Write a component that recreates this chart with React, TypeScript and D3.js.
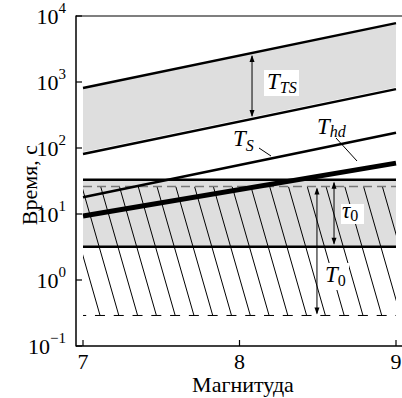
import React from "react";
import * as d3 from "d3";

const magnitudes = [7, 9];
const ttsUpper = [810, 7800];
const ttsLower = [81, 780];
const tS = [18, 170];
const tHd = [9.3, 59];
const tau0Range = [33, 3.2];
const t0Range = [26, 0.29];
const xTicks = [7, 8, 9];
const yTicks = [0.1, 1, 10, 100, 1000, 10000];
const yTickExp = ["−1", "0", "1", "2", "3", "4"];

const W = 402;
const H = 398;

export default function App() {
  const x = d3.scaleLinear().domain([7, 9]).range([83, 396]);
  const y = d3.scaleLog().domain([0.1, 10000]).range([346, 16]);
  const axisLeft = 76;

  const pts = (vals: number[]) => magnitudes.map((m, i) => [m, vals[i]] as [number, number]);
  const line = d3
    .line<[number, number]>()
    .x((d) => x(d[0]))
    .y((d) => y(d[1]));

  const band = d3
    .area<number>()
    .x((_, i) => x(magnitudes[i]))
    .y0((_, i) => y(ttsLower[i] * 1.07))
    .y1((_, i) => y(ttsUpper[i]));

  const at = (vals: number[], m: number) => {
    const t = (m - magnitudes[0]) / (magnitudes[1] - magnitudes[0]);
    return Math.pow(10, Math.log10(vals[0]) + t * (Math.log10(vals[1]) - Math.log10(vals[0])));
  };

  const hatchStart = 7.109;
  const hatchStep = 0.12;
  const hatchSlant = 0.236;
  const hatch = d3.range(-3, 20).map((k) => hatchStart + k * hatchStep);
  const hatchTopY = y(t0Range[0]);
  const hatchBotY = y(t0Range[1]);

  const arrow = (xx: number, y1: number, y2: number, key: string) => (
    <g key={key}>
      <line x1={xx} x2={xx} y1={y1 + 1} y2={y2 - 1} stroke="#000" strokeWidth={1} />
      <path d={`M${xx},${y1} l-2.5,7 l5,0 z`} fill="#000" />
      <path d={`M${xx},${y2} l-2.5,-7 l5,0 z`} fill="#000" />
    </g>
  );

  const mTTS = 8.08;
  const mTau = 8.604;
  const mT0 = 8.495;

  return (
    <svg width={W} height={H} style={{ position: "absolute", left: 0, top: 0 }}>
      <defs>
        <clipPath id="hclip">
          <rect x={x(7)} y={hatchTopY} width={x(9) - x(7)} height={hatchBotY - hatchTopY} />
        </clipPath>
      </defs>
      <path d={band(magnitudes) || ""} fill="#dedede" />
      <path d={line(pts(ttsUpper)) || ""} stroke="#000" strokeWidth={2.5} fill="none" />
      <path d={line(pts(ttsLower)) || ""} stroke="#000" strokeWidth={2.5} fill="none" />

      <rect
        x={x(7)}
        y={y(tau0Range[0])}
        width={x(9) - x(7)}
        height={y(tau0Range[1]) - y(tau0Range[0])}
        fill="#dedede"
      />

      <g clipPath="url(#hclip)">
        {hatch.map((m, i) => (
          <line
            key={i}
            x1={x(m - hatchSlant)}
            y1={hatchTopY}
            x2={x(m)}
            y2={hatchBotY}
            stroke="#000"
            strokeWidth={1}
          />
        ))}
      </g>
      <line
        x1={x(7)}
        x2={x(9)}
        y1={hatchTopY}
        y2={hatchTopY}
        stroke="#777"
        strokeWidth={1.5}
        strokeDasharray="9 5"
      />
      <line
        x1={x(7)}
        x2={x(9)}
        y1={hatchBotY}
        y2={hatchBotY}
        stroke="#000"
        strokeWidth={1}
        strokeDasharray="10 8.78"
        strokeDashoffset={6.8}
      />

      <line x1={x(7)} x2={x(9)} y1={y(tau0Range[0])} y2={y(tau0Range[0])} stroke="#000" strokeWidth={2.5} />
      <line x1={x(7)} x2={x(9)} y1={y(tau0Range[1])} y2={y(tau0Range[1])} stroke="#000" strokeWidth={2.5} />

      <path d={line(pts(tS)) || ""} stroke="#000" strokeWidth={2.5} fill="none" />
      <path d={line(pts(tHd)) || ""} stroke="#000" strokeWidth={5} fill="none" />

      {arrow(x(mTTS), y(at(ttsUpper, mTTS)) + 2, y(at(ttsLower, mTTS)) - 2, "a1")}
      {arrow(x(mTau), y(tau0Range[0]) + 2, y(tau0Range[1]) - 2, "a2")}
      {arrow(x(mT0), y(t0Range[0]) + 1, y(t0Range[1]) - 1, "a3")}

      <line x1={259} y1={148} x2={271} y2={156} stroke="#000" strokeWidth={1} />
      <line x1={336} y1={138} x2={357} y2={161} stroke="#000" strokeWidth={1} />

      <rect x={264} y={70} width={35} height={26} fill="#fff" />
      <rect x={341} y={204} width={23} height={20} fill="#fff" />
      <rect x={323} y={263} width={26} height={27} fill="#fff" />

      <text x={267} y={89} fontSize={23} style={{ fontFamily: "Times New Roman", fontStyle: "italic" }}>
        T<tspan fontSize={16} dy={4}>TS</tspan>
      </text>
      <text x={233} y={146} fontSize={23} style={{ fontFamily: "Times New Roman", fontStyle: "italic" }}>
        T<tspan fontSize={16} dy={5}>S</tspan>
      </text>
      <text x={317} y={134} fontSize={23} style={{ fontFamily: "Times New Roman", fontStyle: "italic" }}>
        T<tspan fontSize={16} dy={3}>hd</tspan>
      </text>
      <text x={342} y={218} fontSize={23} style={{ fontFamily: "Times New Roman", fontStyle: "italic" }}>
        τ<tspan fontSize={16} dy={3} style={{ fontStyle: "normal" }}>0</tspan>
      </text>
      <text x={325} y={282} fontSize={23} style={{ fontFamily: "Times New Roman", fontStyle: "italic" }}>
        T<tspan fontSize={16} dy={4} style={{ fontStyle: "normal" }}>0</tspan>
      </text>

      <line x1={axisLeft} x2={W} y1={16} y2={16} stroke="#555" strokeWidth={1.5} />
      <line x1={axisLeft} x2={axisLeft} y1={15.5} y2={346.5} stroke="#000" strokeWidth={1.5} />
      <line x1={axisLeft} x2={W} y1={346} y2={346} stroke="#000" strokeWidth={1.5} />
      {yTicks.map((t, i) => (
        <g key={"y" + i}>
          <line x1={axisLeft} x2={axisLeft + 6} y1={y(t)} y2={y(t)} stroke="#000" strokeWidth={1.2} />
          <text x={66} y={y(t) + 8} fontSize={22} textAnchor="end" style={{ fontFamily: "serif" }}>
            10<tspan fontSize={15} dy={-11}>{yTickExp[i]}</tspan>
          </text>
        </g>
      ))}
      {xTicks.map((t) => (
        <g key={"x" + t}>
          <line x1={x(t)} x2={x(t)} y1={346} y2={340} stroke="#000" strokeWidth={1.2} />
          <text x={x(t)} y={369} fontSize={22} textAnchor="middle" style={{ fontFamily: "Tinos" }}>
            {t}
          </text>
        </g>
      ))}
      <text x={243} y={392} fontSize={22} textAnchor="middle" style={{ fontFamily: "Liberation Serif" }}>
        Магнитуда
      </text>
      <text transform="translate(37,185) rotate(-90)" fontSize={22} textAnchor="middle" style={{ fontFamily: "Times New Roman" }}>
        Время, с
      </text>
    </svg>
  );
}
